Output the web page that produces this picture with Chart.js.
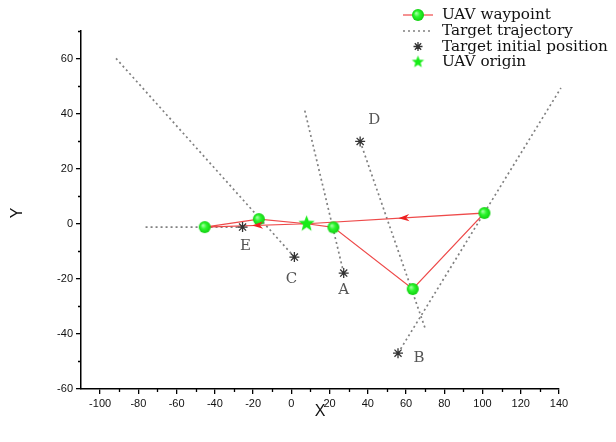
<!DOCTYPE html>
<html><head><meta charset="utf-8">
<script src="https://cdn.jsdelivr.net/npm/chart.js@4"></script>
<style>html,body{margin:0;padding:0;background:#fff}</style>
</head><body>
<canvas id="c" width="616" height="442"></canvas>
<script>
// ---- data ----
const uavPathX = [8, 22, 63.5, 101, 8, -45.3, -17, 8];
const uavPathY = [0, -1.3, -23.7, 3.9, 0, -1.2, 1.7, 0];
const originIdx = [0, 4, 7];
const originX = [8];
const originY = [0];
const targetNames = ['A', 'B', 'C', 'D', 'E'];
const targetInitX = [27.4, 55.8, 1.6, 36, -25.5];
const targetInitY = [-17.9, -47, -12.1, 29.9, -1.2];
const targetEndX = [6.8, 141, -92, 70, -77.5];
const targetEndY = [41.8, 49.3, 60.3, -38, -1.2];
const arrowLegs = [3, 4];
const arrowFractions = [0.484, 0.535];
const xTicks = [-100, -80, -60, -40, -20, 0, 20, 40, 60, 80, 100, 120, 140];
const yTicks = [-60, -40, -20, 0, 20, 40, 60];
const xRange = [-110, 140];
const yRange = [-60, 70];
const legendLabels = ['UAV waypoint', 'Target trajectory', 'Target initial position', 'UAV origin'];
const xTitle = 'X';
const yTitle = 'Y';

// label offsets (pixels) relative to target initial position
const labelOffsets = [[0, 17], [21, 5], [-3, 22], [14, -21], [3, 19]];

// ---- point images ----
function circleImg(r) {
  const c = document.createElement('canvas');
  c.width = c.height = 2 * r + 2;
  const g = c.getContext('2d');
  const cx = r + 1;
  const grd = g.createRadialGradient(cx - r * 0.3, cx - r * 0.3, 0.5, cx, cx, r);
  grd.addColorStop(0, '#9dff9d');
  grd.addColorStop(0.45, '#2cf52c');
  grd.addColorStop(1, '#10d010');
  g.fillStyle = grd;
  g.beginPath(); g.arc(cx, cx, r, 0, Math.PI * 2); g.fill();
  return c;
}
function starImg(R, r) {
  const c = document.createElement('canvas');
  c.width = c.height = 2 * R + 2;
  const g = c.getContext('2d');
  const cx = R + 1;
  g.fillStyle = '#18ec18';
  g.beginPath();
  for (let i = 0; i < 10; i++) {
    const a = -Math.PI / 2 + i * Math.PI / 5;
    const rr = i % 2 === 0 ? R : r;
    const px = cx + rr * Math.cos(a), py = cx + rr * Math.sin(a);
    i === 0 ? g.moveTo(px, py) : g.lineTo(px, py);
  }
  g.closePath(); g.fill();
  return c;
}
const greenCircle = circleImg(6);
const greenStar = starImg(8.5, 3.6);

const RED = '#ee4a4a';
const GREY = '#808080';
const AST = '#333333';
const DASH = [2, 3];

const datasets = [];
// trajectories
for (let i = 0; i < targetNames.length; i++) {
  datasets.push({
    label: 'traj' + targetNames[i],
    data: [{x: targetInitX[i], y: targetInitY[i]}, {x: targetEndX[i], y: targetEndY[i]}],
    showLine: true, borderColor: GREY, borderWidth: 1.7, borderDash: DASH,
    pointRadius: 0, clip: false, order: 4
  });
}
// UAV path
datasets.push({
  label: 'uav',
  data: uavPathX.map((x, i) => ({x, y: uavPathY[i]})),
  showLine: true, borderColor: RED, borderWidth: 1.2,
  pointStyle: greenCircle,
  pointRadius: ctx => originIdx.includes(ctx.dataIndex) ? 0 : 6,
  order: 3
});
// target initial positions
datasets.push({
  label: 'targets',
  data: targetInitX.map((x, i) => ({x, y: targetInitY[i]})),
  showLine: false, pointStyle: 'star', pointRadius: 5,
  borderColor: AST, borderWidth: 1.3, order: 2
});
// origin
datasets.push({
  label: 'origin',
  data: originX.map((x, i) => ({x, y: originY[i]})),
  showLine: false, pointStyle: greenStar, pointRadius: 8, order: 1
});

const overlay = {
  id: 'overlay',
  afterDatasetsDraw(chart) {
    const ctx = chart.ctx, xs = chart.scales.x, ys = chart.scales.y;
    // arrows
    ctx.save();
    ctx.fillStyle = '#ee2020';
    arrowLegs.forEach((leg, k) => {
      const x0 = xs.getPixelForValue(uavPathX[leg]), y0 = ys.getPixelForValue(uavPathY[leg]);
      const x1 = xs.getPixelForValue(uavPathX[leg + 1]), y1 = ys.getPixelForValue(uavPathY[leg + 1]);
      const f = arrowFractions[k];
      const tx = x0 + (x1 - x0) * f, ty = y0 + (y1 - y0) * f;
      const a = Math.atan2(y1 - y0, x1 - x0);
      const L = 11, W = 3.6;
      ctx.beginPath();
      ctx.moveTo(tx, ty);
      ctx.lineTo(tx - L * Math.cos(a) - W * Math.sin(a), ty - L * Math.sin(a) + W * Math.cos(a));
      ctx.lineTo(tx - L * 0.7 * Math.cos(a), ty - L * 0.7 * Math.sin(a));
      ctx.lineTo(tx - L * Math.cos(a) + W * Math.sin(a), ty - L * Math.sin(a) - W * Math.cos(a));
      ctx.closePath(); ctx.fill();
    });
    // target labels
    ctx.fillStyle = '#555';
    ctx.font = '15px "DejaVu Serif"';
    ctx.textAlign = 'center'; ctx.textBaseline = 'middle';
    targetNames.forEach((n, i) => {
      const px = xs.getPixelForValue(targetInitX[i]) + labelOffsets[i][0];
      const py = ys.getPixelForValue(targetInitY[i]) + labelOffsets[i][1];
      ctx.fillText(n, px, py);
    });
    ctx.restore();
  },
  afterDraw(chart) {
    const ctx = chart.ctx, xs = chart.scales.x, ys = chart.scales.y, ca = chart.chartArea;
    ctx.save();
    // minor ticks
    ctx.strokeStyle = '#000'; ctx.lineWidth = 1.3;
    ctx.beginPath();
    for (let v = xRange[0] + 10; v <= xRange[1]; v += 10) {
      if (v % 20 === 0) continue;
      const px = Math.round(xs.getPixelForValue(v)) + 0.5;
      ctx.moveTo(px, ca.bottom); ctx.lineTo(px, ca.bottom + 3);
    }
    for (let v = yRange[0] + 10; v <= yRange[1]; v += 10) {
      if (v % 20 === 0) continue;
      const py = Math.round(ys.getPixelForValue(v)) + 0.5;
      ctx.moveTo(ca.left, py); ctx.lineTo(ca.left - 3, py);
    }
    ctx.stroke();
    // axis titles
    ctx.fillStyle = '#111';
    ctx.font = '16px "Liberation Sans"';
    ctx.textAlign = 'center'; ctx.textBaseline = 'middle';
    ctx.fillText(xTitle, (ca.left + ca.right) / 2, 412);
    ctx.translate(18, (ca.top + ca.bottom) / 2 + 3);
    ctx.rotate(-Math.PI / 2);
    ctx.fillText(yTitle, 0, 0);
    ctx.restore();

    // legend
    ctx.save();
    ctx.font = '13px "DejaVu Serif"';
    const w = ctx.measureText(legendLabels[2]).width;
    const fs = 13 * 166 / w;
    ctx.font = fs.toFixed(2) + 'px "DejaVu Serif"';
    ctx.fillStyle = '#111';
    ctx.textAlign = 'left'; ctx.textBaseline = 'middle';
    const rows = [15, 31, 46.5, 62];
    const sx0 = 403, sx1 = 433, sc = 418, tx = 442;
    rows.forEach((ry, i) => ctx.fillText(legendLabels[i], tx, ry + 0.5));
    // samples
    ctx.strokeStyle = RED; ctx.lineWidth = 1.2;
    ctx.beginPath(); ctx.moveTo(sx0, rows[0]); ctx.lineTo(sx1, rows[0]); ctx.stroke();
    ctx.drawImage(greenCircle, sc - greenCircle.width / 2, rows[0] - greenCircle.height / 2);
    ctx.strokeStyle = GREY; ctx.lineWidth = 1.7; ctx.setLineDash(DASH);
    ctx.beginPath(); ctx.moveTo(sx0, rows[1]); ctx.lineTo(sx1, rows[1]); ctx.stroke();
    ctx.setLineDash([]);
    ctx.strokeStyle = AST; ctx.lineWidth = 1.3;
    const r = 4.5;
    ctx.beginPath();
    ctx.moveTo(sc - r, rows[2]); ctx.lineTo(sc + r, rows[2]);
    ctx.moveTo(sc, rows[2] - r); ctx.lineTo(sc, rows[2] + r);
    const d = r * Math.SQRT1_2;
    ctx.moveTo(sc - d, rows[2] - d); ctx.lineTo(sc + d, rows[2] + d);
    ctx.moveTo(sc - d, rows[2] + d); ctx.lineTo(sc + d, rows[2] - d);
    ctx.stroke();
    const smallStar = starImg(6.5, 2.8);
    ctx.drawImage(smallStar, sc - smallStar.width / 2, rows[3] - smallStar.height / 2);
    ctx.restore();
  }
};

new Chart(document.getElementById('c'), {
  type: 'scatter',
  data: {datasets},
  options: {
    responsive: false, animation: false, devicePixelRatio: 1,
    layout: {padding: {top: 31, right: 57, left: 0, bottom: 0}},
    plugins: {legend: {display: false}, tooltip: {enabled: false}},
    scales: {
      x: {
        type: 'linear', min: xRange[0], max: xRange[1],
        afterBuildTicks: s => { s.ticks = xTicks.map(v => ({value: v})); },
        afterFit: s => { s.height = 53; },
        grid: {drawOnChartArea: false, drawTicks: true, tickLength: 5, color: '#000', lineWidth: 1.3},
        border: {display: true, color: '#000', width: 1.5},
        ticks: {padding: 3, color: '#111', font: {family: '"Liberation Sans"', size: 11}, maxRotation: 0, autoSkip: false}
      },
      y: {
        type: 'linear', min: yRange[0], max: yRange[1],
        afterBuildTicks: s => { s.ticks = yTicks.map(v => ({value: v})); },
        afterFit: s => { s.width = 81; },
        grid: {drawOnChartArea: false, drawTicks: true, tickLength: 5, color: '#000', lineWidth: 1.3},
        border: {display: true, color: '#000', width: 1.5},
        ticks: {padding: 3, color: '#111', font: {family: '"Liberation Sans"', size: 11}, autoSkip: false}
      }
    }
  },
  plugins: [overlay]
});
</script>
</body></html>
